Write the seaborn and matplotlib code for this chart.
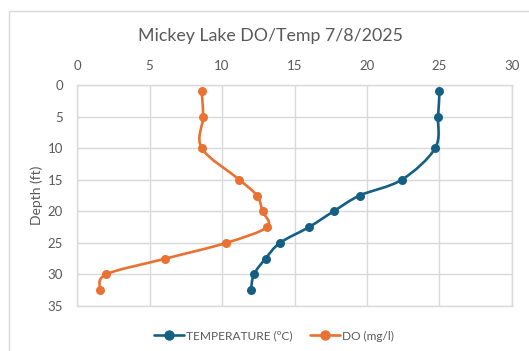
import numpy as np
import pandas as pd
import matplotlib
matplotlib.use("Agg")
import matplotlib.pyplot as plt
from matplotlib.path import Path
from matplotlib.patches import PathPatch, Rectangle
from matplotlib.lines import Line2D
import seaborn as sns

# ---- data ----
depth_ft = [1, 5, 10, 15, 17.5, 20, 22.5, 25, 27.5, 30, 32.5]
temperature_c = [25.0, 24.9, 24.7, 22.4, 19.5, 17.7, 16.0, 14.0, 13.0, 12.2, 12.0]
do_mgl = [8.6, 8.7, 8.6, 11.2, 12.4, 12.8, 13.1, 10.3, 6.1, 2.0, 1.6]
x_ticks = [0, 5, 10, 15, 20, 25, 30]
y_ticks = [0, 5, 10, 15, 20, 25, 30, 35]
title = "Mickey Lake DO/Temp 7/8/2025"
series_names = ["TEMPERATURE (ºC)", "DO (mg/l)"]

TEMP_COLOR = "#156082"
DO_COLOR = "#E97132"
TEXT_COLOR = "#595959"
GRID_COLOR = "#D9D9D9"

sns.set_style("white")
plt.rcParams["font.family"] = ["Lato", "DejaVu Sans"]

fig = plt.figure(figsize=(5.29, 3.51), dpi=100)
W, H = 529, 351
ax = fig.add_axes([77 / W, 1 - 306 / H, (512 - 77) / W, (306 - 85) / H])

df = pd.DataFrame({"depth": depth_ft, "temp": temperature_c, "do": do_mgl})


def smooth_path(xs, ys):
    """Excel-style smoothed line (cubic Bezier through each data point)."""
    pts = np.column_stack([xs, ys]).astype(float)
    n = len(pts)
    verts = [pts[0]]
    codes = [Path.MOVETO]
    for i in range(n - 1):
        p0 = pts[i - 1] if i > 0 else pts[i]
        p1 = pts[i]
        p2 = pts[i + 1]
        p3 = pts[i + 2] if i + 2 < n else pts[i + 1]
        c1 = p1 + (p2 - p0) / 6.0
        c2 = p2 - (p3 - p1) / 6.0
        verts += [c1, c2, p2]
        codes += [Path.CURVE4] * 3
    return Path(verts, codes)


for col, color in [("temp", TEMP_COLOR), ("do", DO_COLOR)]:
    ax.add_patch(PathPatch(smooth_path(df[col], df["depth"]), facecolor="none",
                           edgecolor=color, lw=1.9, capstyle="round",
                           joinstyle="round", zorder=3))
    sns.scatterplot(data=df, x=col, y="depth", color=color, s=42,
                    edgecolor=color, linewidth=0, ax=ax, zorder=4, legend=False)

ax.set_xlim(0, 30)
ax.set_ylim(35, 0)
ax.set_xticks(x_ticks)
ax.set_yticks(y_ticks)
ax.xaxis.tick_top()
ax.tick_params(axis="both", length=0, labelsize=9.5, labelcolor=TEXT_COLOR)
ax.tick_params(axis="x", pad=9)
ax.tick_params(axis="y", pad=10)
ax.grid(True, color=GRID_COLOR, lw=1)
for s in ax.spines.values():
    s.set_color(GRID_COLOR)
    s.set_linewidth(1)
ax.set_xlabel("")
ax.set_ylabel("Depth (ft)", fontsize=10, color=TEXT_COLOR, va="center")
ax.yaxis.set_label_coords((37 - 77) / 435, 0.5)

fig.text(270 / W, 1 - 36 / H, title, ha="center", va="center",
         fontsize=12.8, color=TEXT_COLOR)

handles = [Line2D([], [], color=TEMP_COLOR, lw=1.9, marker="o", markersize=6.5),
           Line2D([], [], color=DO_COLOR, lw=1.9, marker="o", markersize=6.5)]
fig.legend(handles, series_names, loc="center", bbox_to_anchor=(274 / W, 1 - 336 / H),
           ncol=2, frameon=False, fontsize=8.6, labelcolor=TEXT_COLOR,
           handlelength=2.5, handletextpad=0.15, columnspacing=1.5)

fig.add_artist(Rectangle((9 / W, -0.1), 1.2, 1 - 11 / H + 0.1,
                         transform=fig.transFigure, fill=False,
                         edgecolor=GRID_COLOR, lw=1))

fig.savefig("out.png", dpi=100)
